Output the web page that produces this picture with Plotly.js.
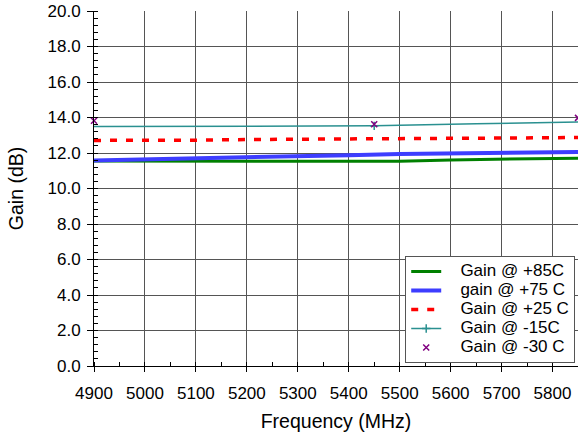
<!DOCTYPE html>
<html>
<head>
<meta charset="utf-8">
<script src="https://cdn.plot.ly/plotly-3.0.1.min.js"></script>
<style>html,body{margin:0;padding:0;background:#fff;}#chart{width:578px;height:437px;}</style>
</head>
<body>
<div id="chart"></div>
<script>
// Frequency axis (MHz)
var freq = [4900, 5000, 5100, 5200, 5300, 5400, 5500, 5600, 5700, 5800, 5850];
// Gain (dB) series
var gain85 = [11.55, 11.54, 11.54, 11.54, 11.54, 11.54, 11.53, 11.61, 11.66, 11.69, 11.71];
var gain75 = [11.58, 11.63, 11.69, 11.75, 11.83, 11.88, 11.94, 11.96, 12.0, 12.04, 12.06];
var gain25 = [12.71, 12.71, 12.72, 12.76, 12.77, 12.78, 12.8, 12.82, 12.84, 12.86, 12.88];
var freqM15 = [4900, 5450, 5650, 5850];
var gainM15 = [13.49, 13.53, 13.65, 13.74];
var freqM15Mark = [5450];
var gainM15Mark = [13.53];
var freqM30 = [4900, 5450, 5850];
var gainM30 = [13.82, 13.62, 13.98];
var names = ['Gain @ +85C', 'gain @ +75 C', 'Gain @ +25 C', 'Gain @ -15C', 'Gain @ -30 C'];

function lg(s) { return '<span style="font-size:17px">&nbsp;&nbsp;&nbsp;' + s + '</span>'; }

var traces = [
  {x: freq, y: gain85, name: lg(names[0]), mode: 'lines', line: {color: '#008000', width: 3}},
  {x: freq, y: gain75, name: lg(names[1]), mode: 'lines', line: {color: '#3d3dff', width: 4}},
  {x: freq, y: gain25, name: lg(names[2]), mode: 'lines', line: {color: '#ff0000', width: 3.5, dash: '7px,9px'}},
  {x: freqM15, y: gainM15, name: lg(names[3]), mode: 'lines', showlegend: false, line: {color: '#2a9090', width: 1.5}},
  {x: freqM15Mark, y: gainM15Mark, name: lg(names[3]), mode: 'lines+markers', line: {color: '#2a9090', width: 1.5},
   marker: {symbol: 'cross-thin', size: 6, line: {color: '#2a9090', width: 1.5}}},
  {x: freqM30, y: gainM30, name: lg(names[4]), mode: 'markers', cliponaxis: false,
   marker: {symbol: 'x-thin', size: 6, color: '#800080', line: {color: '#800080', width: 1.5}}}
];

var layout = {
  width: 578, height: 437,
  margin: {l: 94, r: 0, t: 11, b: 71},
  paper_bgcolor: '#fff', plot_bgcolor: '#fff',
  font: {family: 'Liberation Sans, Arial, sans-serif', size: 14, color: '#000'},
  showlegend: true,
  legend: {
    x: 0.643, y: 0.31, xanchor: 'left', yanchor: 'top',
    bgcolor: '#fff', bordercolor: '#555', borderwidth: 1,
    font: {size: 12, color: '#000'},
    tracegroupgap: 0, itemwidth: 30
  },
  xaxis: {
    range: [4900, 5850], dtick: 100, tick0: 4900,
    showgrid: true, gridcolor: '#555', gridwidth: 1,
    showline: true, linecolor: '#000', linewidth: 1,
    ticks: 'outside', ticklen: 5, tickcolor: '#000', ticklabelstandoff: 7,
    minor: {dtick: 50, ticks: 'inside', ticklen: 4, tickcolor: '#000', showgrid: false},
    zeroline: false,
    tickfont: {size: 17},
    title: {text: 'Frequency (MHz)', font: {size: 19.5}, standoff: 11}
  },
  yaxis: {
    range: [0, 20], dtick: 2, tick0: 0, tickformat: '.1f',
    showgrid: true, gridcolor: '#555', gridwidth: 1,
    showline: true, linecolor: '#000', linewidth: 1,
    ticks: 'outside', ticklen: 6, tickcolor: '#000', ticklabelstandoff: 3,
    minor: {dtick: 0.4, ticks: 'inside', ticklen: 4, tickcolor: '#000', showgrid: false},
    zeroline: false,
    tickfont: {size: 17},
    title: {text: 'Gain (dB)', font: {size: 19.5}, standoff: 18}
  }
};

Plotly.newPlot('chart', traces, layout, {staticPlot: true, displayModeBar: false});
</script>
</body>
</html>
